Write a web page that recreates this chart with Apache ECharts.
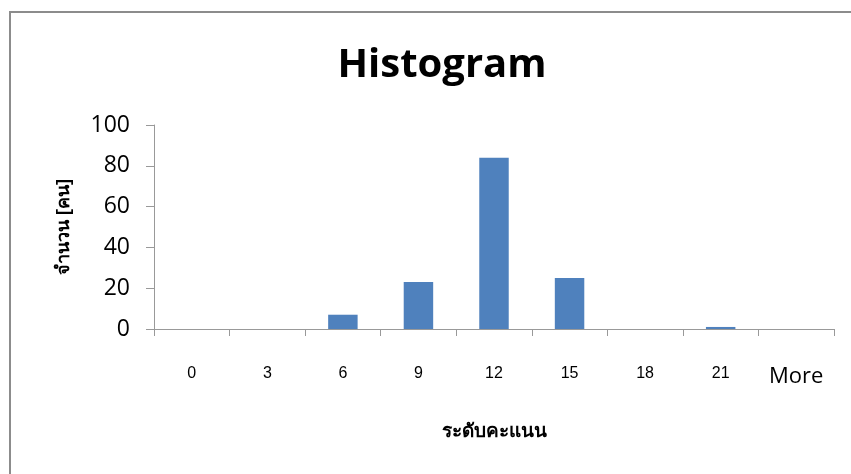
<!DOCTYPE html>
<html><head><meta charset="utf-8">
<script src="https://cdn.jsdelivr.net/npm/echarts@6/dist/echarts.min.js"></script>
<style>html,body{margin:0;padding:0;background:#fff}#c{width:851px;height:474px}</style>
</head><body><div id="c"></div>
<script>
const categories = ['0','3','6','9','12','15','18','21','More'];
const frequency = [0, 0, 7, 23, 84, 25, 0, 1, 0];
const yTicks = [0, 20, 40, 60, 80, 100];

const chart = echarts.init(document.getElementById('c'), null, {renderer:'canvas'});
chart.setOption({
  animation:false,
  backgroundColor:'#fff',
  graphic:[{type:'rect', shape:{x:10,y:12,width:900,height:500}, style:{fill:'none', stroke:'#8c8c8c', lineWidth:2}, silent:true}],
  title:{text:'Histogram', left:437, top:41, textAlign:'center',
    textStyle:{fontFamily:'Open Sans', fontWeight:'bold', fontSize:40, color:'#000'}},
  grid:{left:154, right:17, top:125, bottom:145},
  xAxis:{type:'category', data:categories,
    name:'ระดับคะแนน', nameLocation:'middle', nameGap:93,
    nameTextStyle:{fontFamily:'sans-serif', fontWeight:'bold', fontSize:19, color:'#000'},
    axisLine:{lineStyle:{color:'#999', width:1}},
    axisTick:{show:true, interval:0, length:7, lineStyle:{color:'#999'}},
    axisLabel:{interval:0, margin:37, fontFamily:'Liberation Sans', fontSize:16, color:'#000',
      formatter:(v)=> v==='More' ? '{m|More}' : v,
      rich:{m:{fontFamily:'Open Sans', fontSize:22, color:'#000'}}}},
  yAxis:{type:'value', min:0, max:100, interval:20,
    name:'จำนวน [คน]', nameLocation:'middle', nameGap:81, nameRotate:90,
    nameTextStyle:{fontFamily:'sans-serif', fontWeight:'bold', fontSize:18, color:'#000'},
    axisLine:{show:true, lineStyle:{color:'#999'}},
    axisTick:{show:true, inside:false, length:8, lineStyle:{color:'#999'}},
    splitLine:{show:false},
    axisLabel:{margin:24, fontFamily:'Open Sans', fontSize:23, color:'#000',
      formatter:(v)=> yTicks.includes(v) ? String(v) : ''}},
  series:[{type:'bar', data:frequency, barWidth:'39%',
    itemStyle:{color:'#4f81bd'}}]
});
</script></body></html>
